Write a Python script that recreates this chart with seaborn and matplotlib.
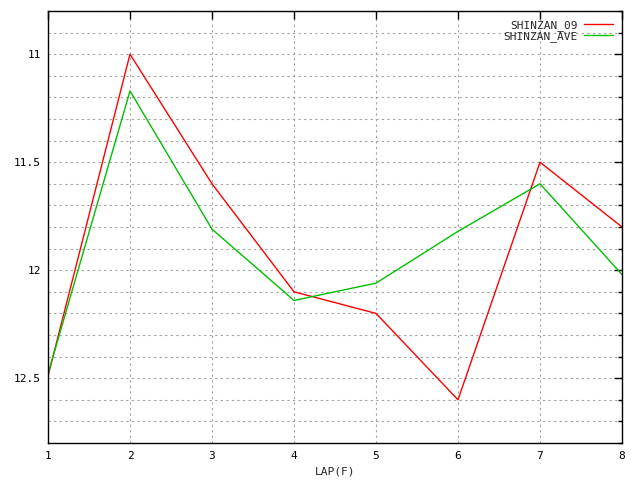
import matplotlib
matplotlib.use('Agg')
import matplotlib.pyplot as plt
from matplotlib.ticker import MultipleLocator
import pandas as pd
import seaborn as sns

# Data
laps = [1, 2, 3, 4, 5, 6, 7, 8]
shinzan_09 = [12.49, 11.0, 11.6, 12.1, 12.2, 12.6, 11.5, 11.8]
shinzan_ave = [12.48, 11.17, 11.81, 12.14, 12.06, 11.82, 11.6, 12.02]
series_names = ['SHINZAN_09', 'SHINZAN_AVE']

df = pd.DataFrame({
    'LAP(F)': laps * 2,
    'time': shinzan_09 + shinzan_ave,
    'series': [series_names[0]] * len(laps) + [series_names[1]] * len(laps),
})

sns.set_style('white')
plt.rcParams['font.family'] = ['DejaVu Sans Mono']
plt.rcParams['font.size'] = 8

fig = plt.figure(figsize=(6.4, 4.8), dpi=100)
ax = fig.add_axes([48 / 640, 37 / 480, 574 / 640, 432 / 480])

sns.lineplot(
    data=df, x='LAP(F)', y='time', hue='series', ax=ax,
    palette={'SHINZAN_09': '#ff0000', 'SHINZAN_AVE': '#00c000'},
    linewidth=1, legend=True,
)

ax.set_xlim(1, 8)
ax.set_ylim(12.8, 10.8)
ax.xaxis.set_major_locator(MultipleLocator(1))
ax.yaxis.set_minor_locator(MultipleLocator(0.1))
ax.set_yticks([11, 11.5, 12, 12.5])
ax.set_yticklabels(['11', '11.5', '12', '12.5'])

grid_kw = dict(color='#a0a0a0', linestyle=(0, (2, 3)), linewidth=0.8)
ax.grid(True, which='both', axis='y', **grid_kw)
ax.grid(True, which='major', axis='x', **grid_kw)

ax.tick_params(which='both', direction='in', top=True, right=True,
               colors='black', labelsize=8)
ax.tick_params(axis='y', pad=5)
ax.tick_params(axis='x', pad=6)
ax.tick_params(which='major', length=6, width=1)
ax.tick_params(which='minor', length=3, width=1)

for spine in ax.spines.values():
    spine.set_color('black')
    spine.set_linewidth(1)

ax.set_ylabel('')
ax.set_xlabel('LAP(F)', fontsize=8, labelpad=4)

leg = ax.legend(loc='upper right', frameon=False, markerfirst=False,
                fontsize=8, handlelength=2.6, handletextpad=0.6,
                labelspacing=0.0, borderaxespad=0.5, borderpad=0.3)

fig.savefig('out.png', dpi=100)
